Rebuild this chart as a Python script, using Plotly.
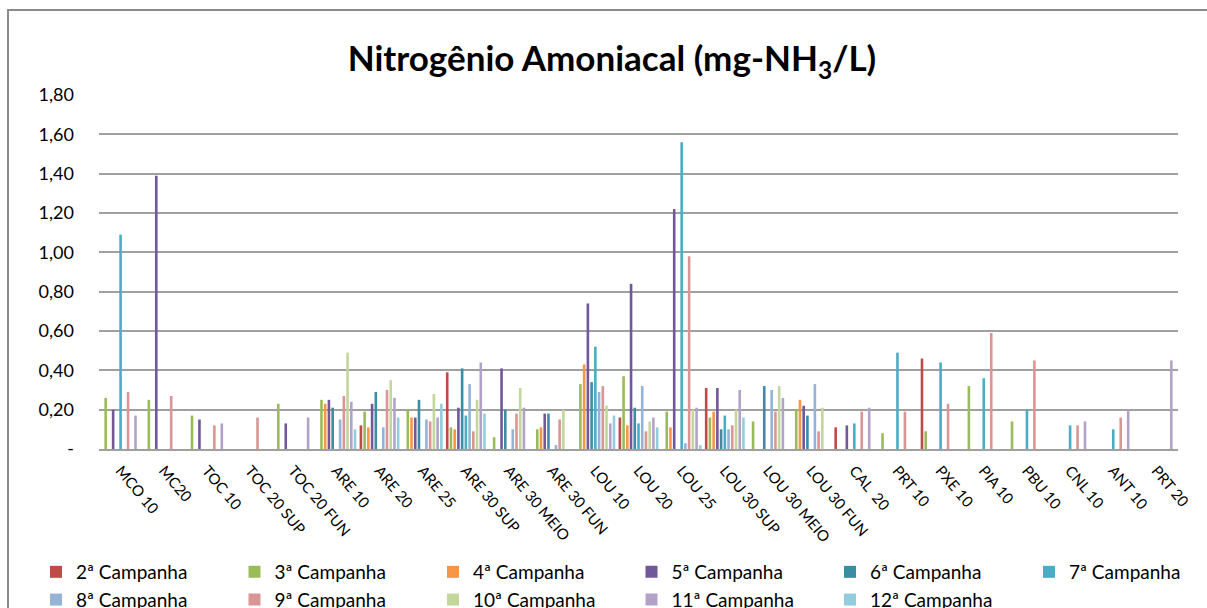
import plotly.graph_objects as go

categories = ["MCO 10", "MC20", "TOC 10", "TOC 20 SUP", "TOC 20 FUN", "ARE 10", "ARE 20",
              "ARE 25", "ARE 30 SUP", "ARE 30 MEIO", "ARE 30 FUN", "LOU 10", "LOU 20",
              "LOU 25", "LOU 30 SUP", "LOU 30 MEIO", "LOU 30 FUN", "CAL  20", "PRT 10",
              "PXE 10", "PIA 10", "PBU 10", "CNL 10", "ANT 10", "PRT 20"]

N = None
c2 = [N, N, N, N, N, N, 0.12, N, 0.39, N, N, N, 0.16, N, 0.31, N, N, 0.11, N, 0.46, N, N, N, N, N]
c3 = [0.26, 0.25, 0.17, N, 0.23, 0.25, 0.19, 0.20, 0.11, 0.06, 0.10, 0.33, 0.37, 0.19, 0.16, 0.14, 0.20, N, 0.08, 0.09, 0.32, 0.14, N, N, N]
c4 = [N, N, N, N, N, 0.23, 0.11, 0.16, 0.10, N, 0.11, 0.43, 0.12, 0.11, 0.19, N, 0.25, N, N, N, N, N, N, N, N]
c5 = [0.20, 1.39, 0.15, N, 0.13, 0.25, 0.23, 0.16, 0.21, 0.41, 0.18, 0.74, 0.84, 1.22, 0.31, N, 0.22, 0.12, N, N, N, N, N, N, N]
c6 = [N, N, N, N, N, 0.21, 0.29, 0.25, 0.41, 0.20, 0.18, 0.34, 0.21, N, 0.10, 0.32, 0.17, N, N, N, N, N, N, N, N]
c7 = [1.09, N, N, N, N, N, N, N, 0.17, N, N, 0.52, 0.13, 1.56, 0.17, N, N, 0.13, 0.49, 0.44, 0.36, 0.20, 0.12, 0.10, N]
c8 = [N, N, N, N, N, 0.15, 0.11, 0.15, 0.33, 0.10, 0.02, 0.29, 0.32, 0.03, 0.10, 0.30, 0.33, N, N, N, N, N, N, N, N]
c9 = [0.29, 0.27, 0.12, 0.16, N, 0.27, 0.30, 0.14, 0.09, 0.18, 0.15, 0.32, 0.09, 0.98, 0.12, 0.19, 0.09, 0.19, 0.19, 0.23, 0.59, 0.45, 0.12, 0.16, N]
c10 = [N, N, N, N, N, 0.49, 0.35, 0.28, 0.25, 0.31, 0.20, 0.22, 0.14, 0.20, 0.20, 0.32, 0.21, N, N, N, N, N, N, N, N]
c11 = [0.17, N, 0.13, N, 0.16, 0.24, 0.26, 0.16, 0.44, 0.21, N, 0.13, 0.16, 0.21, 0.30, 0.26, N, 0.21, N, N, N, N, 0.14, 0.20, 0.45]
c12 = [N, N, N, N, N, 0.10, 0.16, 0.23, 0.18, N, N, 0.17, 0.11, 0.02, 0.16, N, N, N, N, N, N, N, N, N, N]

series_names = ["2ª Campanha", "3ª Campanha", "4ª Campanha", "5ª Campanha", "6ª Campanha",
                "7ª Campanha", "8ª Campanha", "9ª Campanha", "10ª Campanha", "11ª Campanha",
                "12ª Campanha"]
series_values = [c2, c3, c4, c5, c6, c7, c8, c9, c10, c11, c12]
colors = ["#BE4B48", "#9BBB59", "#F79646", "#71589A", "#3C8DA3", "#4BACC6",
          "#95B3D7", "#D99694", "#C3D69B", "#B3A2C7", "#93CDDD"]

y_tickvals = [0, 0.2, 0.4, 0.6, 0.8, 1.0, 1.2, 1.4, 1.6, 1.8]
y_ticktext = ["-", "0,20", "0,40", "0,60", "0,80", "1,00", "1,20", "1,40", "1,60", "1,80"]

FONT = "Lato, Liberation Sans, sans-serif"

L, R, T, B = 99, 1178, 95, 449
W, H = 1207, 608
pw, ph = R - L, B - T

fig = go.Figure()
for i, (name, vals, col) in enumerate(zip(series_names, series_values, colors)):
    col_idx = i % 6
    leg = "legend" if col_idx == 0 else f"legend{col_idx + 1}"
    fig.add_trace(go.Bar(x=categories, y=vals, name=name, legend=leg,
                         marker=dict(color=col, line=dict(width=0))))

legend_text_px = [73, 271.5, 470, 668.5, 867, 1066]
legend_layouts = {}
for k, px in enumerate(legend_text_px):
    key = "legend" if k == 0 else f"legend{k + 1}"
    legend_layouts[key] = dict(
        orientation="v", x=(px - 37 - L) / pw, xanchor="left",
        y=-(553 - B) / ph, yanchor="top",
        font=dict(family=FONT, size=19, color="#000000"),
        itemsizing="constant", traceorder="normal", bgcolor="rgba(0,0,0,0)",
        borderwidth=0)

fig.update_layout(
    width=W, height=H,
    margin=dict(l=L, r=W - R, t=T, b=H - B, pad=0, autoexpand=False),
    paper_bgcolor="white", plot_bgcolor="white",
    barmode="group", bargap=0.05, bargroupgap=0.3,
    font=dict(family=FONT, color="#000000", size=16),
    title=dict(text="<b>Nitrogênio Amoniacal (mg-NH<sub>3</sub>/L)</b>",
               x=0.507, xanchor="center", y=1 - 59 / H, yanchor="middle",
               font=dict(family=FONT, size=35, color="#000000")),
    showlegend=True,
    xaxis=dict(tickangle=50, showgrid=False, showline=True, linecolor="#A0A0A0", linewidth=2,
               ticks="", tickfont=dict(family=FONT, size=15), automargin=False,
               ticklabelstandoff=5),
    yaxis=dict(range=[0, 1.8], tickvals=y_tickvals, ticktext=y_ticktext,
               showgrid=True, gridcolor="#A0A0A0", gridwidth=2, zeroline=False,
               showline=False, ticks="", ticklabelstandoff=24,
               tickfont=dict(family=FONT, size=18), automargin=False),
    shapes=[dict(type="rect", xref="paper", yref="paper",
                 x0=(8 - L) / pw, x1=(1215 - L) / pw,
                 y0=-(620 - B) / ph, y1=1 + (T - 10) / ph,
                 line=dict(color="#8A8A8A", width=2), fillcolor="rgba(0,0,0,0)", layer="below")],
    **legend_layouts,
)

fig.write_html("out.html", config={"displayModeBar": False},
               post_script="document.body.style.margin='0px';")
